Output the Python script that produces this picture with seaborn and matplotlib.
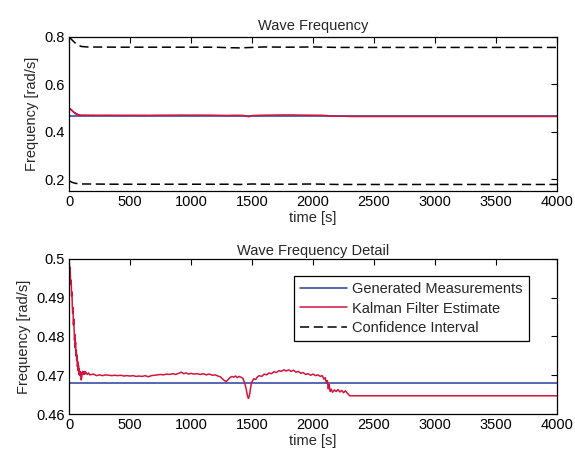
import numpy as np
import pandas as pd
import matplotlib
matplotlib.use("Agg")
import matplotlib.pyplot as plt
import seaborn as sns

# Datos
meas_t = [0, 4000]
meas_f = [0.4681, 0.4681]

kf_t = [0, 3, 6, 9, 12, 15, 18, 21, 24, 27, 30, 33, 36, 39, 42, 45, 48, 51, 54, 57,
        60, 63, 66, 69, 72, 75, 78, 81, 84, 87, 90, 93, 96, 100, 104, 108, 112, 116,
        120, 125, 130, 135, 140, 150, 160, 170,
        200, 225, 250, 275, 300, 325, 350, 375, 400, 425, 450, 475, 500, 525, 550,
        575, 600, 625, 650, 675, 700, 725, 750, 775, 800, 825, 850, 875, 900, 920,
        940, 960, 980, 1000, 1025, 1050, 1075, 1100, 1125, 1150, 1175, 1200, 1220,
        1240, 1260, 1275, 1290, 1305, 1320, 1335, 1350, 1365, 1380, 1395, 1410, 1425,
        1440, 1452, 1462, 1470, 1478, 1487, 1495, 1505, 1515, 1530, 1545, 1560, 1580,
        1600, 1620, 1640, 1660, 1680, 1700, 1720, 1740, 1760, 1780, 1800, 1820, 1840,
        1860, 1880, 1900, 1920, 1940, 1960, 1980, 2000, 2020, 2040, 2060, 2075, 2090,
        2100, 2110, 2118, 2125, 2132, 2140, 2150, 2160, 2175, 2190, 2205, 2220, 2235,
        2250, 2265, 2280, 2290, 2300, 4000]
kf_f = [0.4995, 0.4985, 0.4970, 0.4978, 0.4950, 0.4935, 0.4945, 0.4905, 0.4915, 0.4880,
        0.4860, 0.4875, 0.4830, 0.4845, 0.4815, 0.4790, 0.4805, 0.4770, 0.4785, 0.4750,
        0.4765, 0.4738, 0.4752, 0.4722, 0.4735, 0.4712, 0.4725, 0.4703, 0.4716, 0.4700,
        0.4710, 0.4698, 0.4707, 0.4688, 0.4694, 0.4706, 0.4710, 0.4703, 0.4708, 0.4702,
        0.4710, 0.4704, 0.4707, 0.4702, 0.4706, 0.4701,
        0.4703, 0.4699, 0.4701, 0.4699, 0.4701, 0.4700, 0.4699, 0.4700, 0.4699, 0.4700,
        0.4698, 0.4699, 0.4698, 0.4699, 0.4697, 0.4698, 0.4697, 0.4699, 0.4696, 0.4699,
        0.4700, 0.4701, 0.4702, 0.4701, 0.4703, 0.4702, 0.4704, 0.4702, 0.4705, 0.4708,
        0.4704, 0.4706, 0.4703, 0.4705, 0.4703, 0.4704, 0.4702, 0.4704, 0.4701, 0.4703,
        0.4700, 0.4701, 0.4698, 0.4696, 0.4690, 0.4686, 0.4684, 0.4689, 0.4694, 0.4697,
        0.4695, 0.4698, 0.4694, 0.4697, 0.4695, 0.4692, 0.4680, 0.4665, 0.4648, 0.4640,
        0.4646, 0.4665, 0.4680, 0.4686, 0.4691, 0.4689, 0.4696, 0.4699, 0.4697, 0.4703,
        0.4701, 0.4706, 0.4704, 0.4709, 0.4707, 0.4712, 0.4710, 0.4714, 0.4711, 0.4714,
        0.4710, 0.4713, 0.4708, 0.4710, 0.4705, 0.4707, 0.4702, 0.4704, 0.4700, 0.4703,
        0.4699, 0.4701, 0.4697, 0.4699, 0.4690, 0.4694, 0.4680, 0.4686, 0.4665, 0.4676,
        0.4658, 0.4664, 0.4656, 0.4662, 0.4658, 0.4663, 0.4657, 0.4661, 0.4655, 0.4660,
        0.4654, 0.4651, 0.4647, 0.4647]

ci_t = [0, 20, 50, 80, 100, 150, 400, 800, 1200, 1300, 1400, 1500, 1600, 1800, 2000,
        2100, 2200, 3000, 4000]
ci_hi = [0.800, 0.790, 0.775, 0.765, 0.760, 0.758, 0.757, 0.757, 0.757, 0.755, 0.754,
         0.756, 0.758, 0.757, 0.758, 0.757, 0.756, 0.756, 0.756]
ci_lo = [0.195, 0.188, 0.183, 0.181, 0.180, 0.180, 0.179, 0.179, 0.179, 0.179, 0.178,
         0.180, 0.179, 0.179, 0.180, 0.179, 0.178, 0.178, 0.178]

x_ticks = [0, 500, 1000, 1500, 2000, 2500, 3000, 3500, 4000]

c_meas = '#2a3f98'
c_kf = '#d3143c'

sns.set_style("white")
plt.rcParams['font.family'] = ['Liberation Sans', 'DejaVu Sans']
plt.rcParams['lines.dashed_pattern'] = [6, 3]
plt.rcParams['xtick.direction'] = 'in'
plt.rcParams['ytick.direction'] = 'in'

fig = plt.figure(figsize=(5.75, 4.55), dpi=100)
ax1 = fig.add_axes([0.12, 0.580, 0.8487, 0.3387])
ax2 = fig.add_axes([0.12, 0.0901, 0.8487, 0.3407])


def dibujar(ax):
    sns.lineplot(x=meas_t, y=meas_f, ax=ax, color=c_meas, linewidth=1.1,
                 label='Generated Measurements')
    sns.lineplot(x=kf_t, y=kf_f, ax=ax, color=c_kf, linewidth=1.1,
                 label='Kalman Filter Estimate')
    sns.lineplot(x=ci_t, y=ci_hi, ax=ax, color='black', linewidth=1.1,
                 linestyle='--', label='Confidence Interval')
    sns.lineplot(x=ci_t, y=ci_lo, ax=ax, color='black', linewidth=1.1,
                 linestyle='--')
    ax.set_xlim(0, 4000)
    ax.set_xticks(x_ticks)
    ax.set_xticklabels([str(v) for v in x_ticks])
    ax.set_xlabel('time [s]', fontsize=10.5, labelpad=1)
    ax.set_ylabel('Frequency [rad/s]', fontsize=10.5, labelpad=4)
    ax.tick_params(axis='both', which='both', labelsize=10.5, length=4, width=0.8,
                   top=True, right=True, pad=3, colors='black')
    for s in ax.spines.values():
        s.set_color('black')
        s.set_linewidth(0.9)


dibujar(ax1)
ax1.set_ylim(0.15, 0.8)
ax1.set_yticks([0.2, 0.4, 0.6, 0.8])
ax1.set_yticklabels(['0.2', '0.4', '0.6', '0.8'])
ax1.set_title('Wave Frequency', fontsize=10.5, pad=5)
ax1.get_legend().remove()

dibujar(ax2)
ax2.set_ylim(0.46, 0.5)
ax2.set_yticks([0.46, 0.47, 0.48, 0.49, 0.5])
ax2.set_yticklabels(['0.46', '0.47', '0.48', '0.49', '0.5'])
ax2.set_title('Wave Frequency Detail', fontsize=10.5, pad=3)
leg = ax2.legend(loc='upper right', bbox_to_anchor=(0.957, 0.938), fontsize=10.5,
                 frameon=True, fancybox=False, framealpha=1, edgecolor='black',
                 handlelength=3.2, borderpad=0.4, labelspacing=0.4, handletextpad=0.4)
leg.get_frame().set_linewidth(0.9)

fig.savefig('out.png', dpi=100)
